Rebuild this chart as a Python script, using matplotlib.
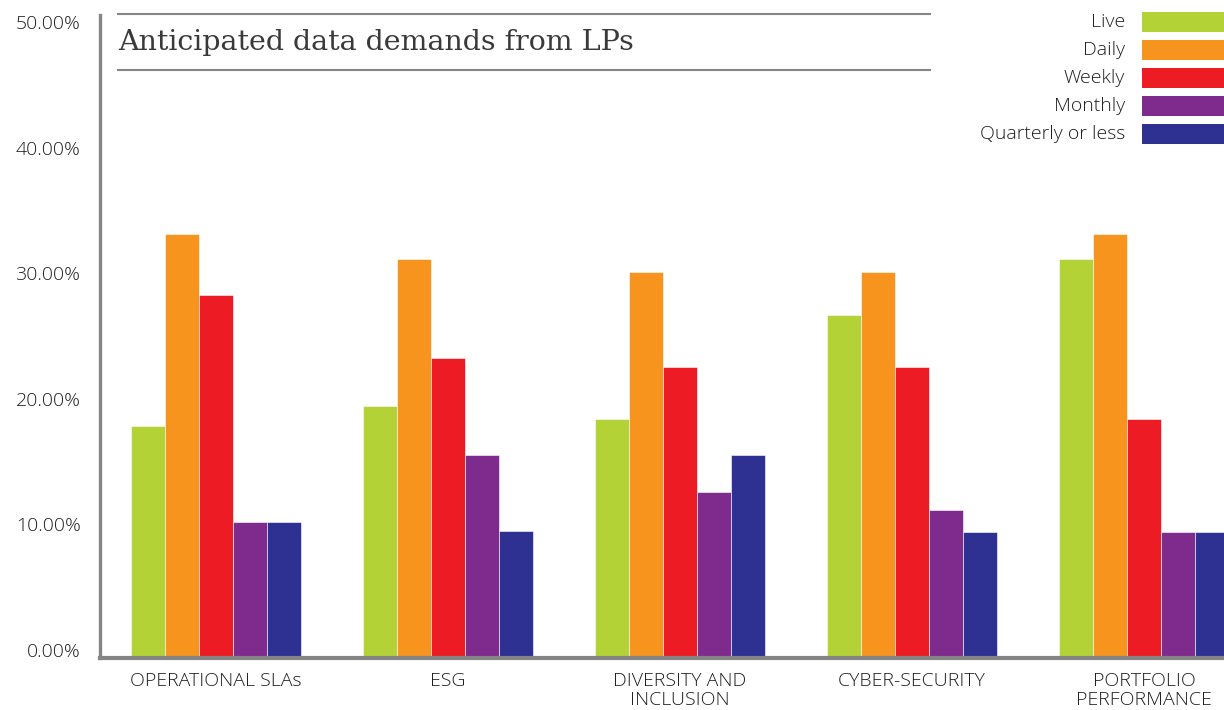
import matplotlib.pyplot as plt
import matplotlib.transforms as mtransforms
from matplotlib.patches import Rectangle

# Datos (porcentajes)
categorias = ['OPERATIONAL SLAs', 'ESG', 'DIVERSITY AND\nINCLUSION', 'CYBER-SECURITY', 'PORTFOLIO\nPERFORMANCE']
series = ['Live', 'Daily', 'Weekly', 'Monthly', 'Quarterly or less']
live = [18.5, 20.1, 19.0, 27.3, 31.8]
daily = [33.8, 31.8, 30.7, 30.7, 33.8]
weekly = [28.9, 23.9, 23.2, 23.2, 19.0]
monthly = [10.8, 16.2, 13.2, 11.8, 10.0]
quarterly = [10.8, 10.1, 16.2, 10.0, 10.0]
ticks = [0, 10, 20, 30, 40, 50]

valores = [live, daily, weekly, monthly, quarterly]
colores = ['#B2D235', '#F7941E', '#ED1C24', '#7F2A8D', '#2E3192']
texto = '#1e1e1e'
gris = '#858585'
fuente = 'Open Sans'

fig = plt.figure(figsize=(12.24, 7.1), dpi=100)
ax = fig.add_axes([100 / 1224, 52 / 710, 1124 / 1224, 643 / 710])

ancho = 34 / 232
for i in range(len(series)):
    pos = [c + (i - 2) * ancho for c in range(len(categorias))]
    ax.bar(pos, valores[i], width=ancho, color=colores[i],
           edgecolor='white', linewidth=0.4)

ax.set_xlim(-0.5, 4.345)
ax.set_ylim(0, 51.2)
ax.set_yticks(ticks)
ax.set_yticklabels(['%.2f%%' % t for t in ticks], fontsize=14, color=texto,
                   family=fuente, fontweight='light')
ax.set_xticks(range(len(categorias)))
ax.set_xticklabels(categorias, fontsize=14, color=texto, family=fuente,
                   fontweight='light', linespacing=1.05)
ax.tick_params(axis='both', length=0)
ax.tick_params(axis='y', pad=14)
ax.tick_params(axis='x', pad=10)
# Subir un poco las etiquetas del eje y
offset = mtransforms.ScaledTranslation(0, 8 / 100, fig.dpi_scale_trans)
for lab in ax.get_yticklabels():
    lab.set_transform(lab.get_transform() + offset)

for s in ['top', 'right']:
    ax.spines[s].set_visible(False)
ax.spines['left'].set_color(gris)
ax.spines['left'].set_linewidth(2.4)
ax.spines['bottom'].set_color(gris)
ax.spines['bottom'].set_linewidth(3)

# Titulo con lineas
fig.add_artist(plt.Line2D([118 / 1224, 930 / 1224], [1 - 14 / 710, 1 - 14 / 710], color=gris, linewidth=1.5))
fig.add_artist(plt.Line2D([118 / 1224, 930 / 1224], [1 - 70 / 710, 1 - 70 / 710], color=gris, linewidth=1.5))
fig.text(118 / 1224, 1 - 43 / 710, 'Anticipated data demands from LPs', fontsize=20.5,
         color='#3a3a3a', family='DejaVu Serif', va='center', ha='left')

# Leyenda
for i in range(len(series)):
    yc = 22 + 28 * i
    fig.text(1125 / 1224, 1 - yc / 710, series[i], fontsize=14, color=texto,
             family=fuente, fontweight='light', ha='right', va='center')
    fig.add_artist(Rectangle((1142 / 1224, 1 - (yc + 10) / 710), 82 / 1224, 20 / 710,
                             facecolor=colores[i], edgecolor='none', transform=fig.transFigure))

plt.savefig('out.png', dpi=100)
